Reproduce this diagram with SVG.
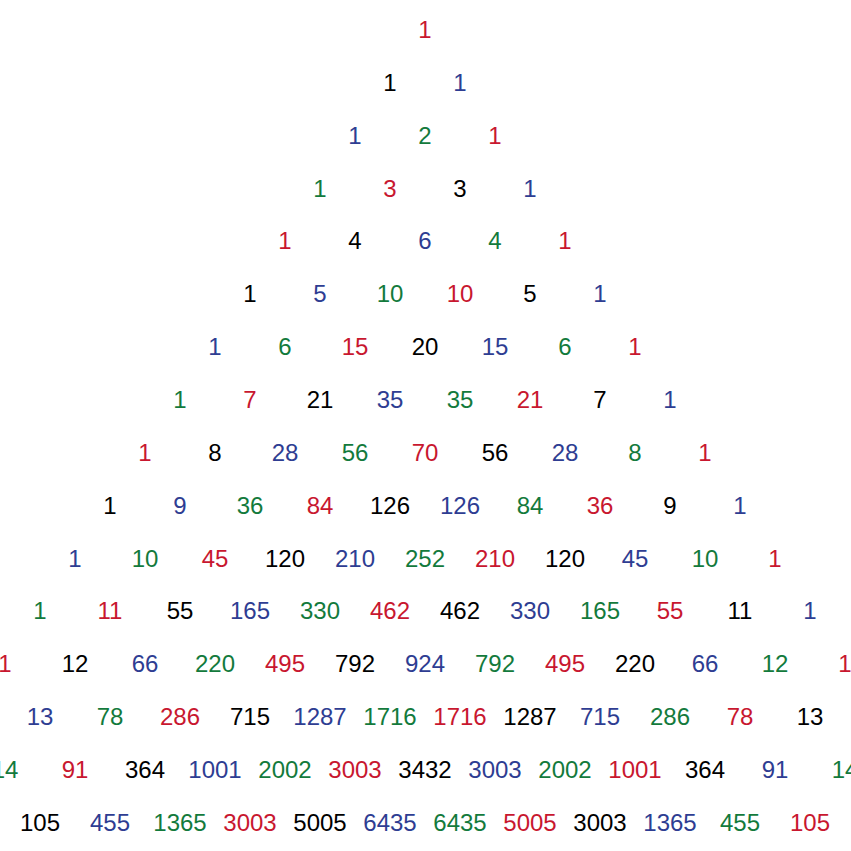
<svg xmlns="http://www.w3.org/2000/svg" width="851" height="851" viewBox="0 0 851 851">
<style>
text{font-family:"Liberation Sans",Arial,sans-serif;font-size:24px;text-anchor:middle}
.c0{fill:#c8172f}.c1{fill:#000}.c2{fill:#2e3d92}.c3{fill:#137a3c}
</style>
<rect width="851" height="851" fill="#fff"/>
<g id="row0"><text class="c0" x="425" y="38">1</text></g>
<g id="row1"><text class="c1" x="390" y="90.9">1</text><text class="c2" x="460" y="90.9">1</text></g>
<g id="row2"><text class="c2" x="355" y="143.7">1</text><text class="c3" x="425" y="143.7">2</text><text class="c0" x="495" y="143.7">1</text></g>
<g id="row3"><text class="c3" x="320" y="196.6">1</text><text class="c0" x="390" y="196.6">3</text><text class="c1" x="460" y="196.6">3</text><text class="c2" x="530" y="196.6">1</text></g>
<g id="row4"><text class="c0" x="285" y="249.4">1</text><text class="c1" x="355" y="249.4">4</text><text class="c2" x="425" y="249.4">6</text><text class="c3" x="495" y="249.4">4</text><text class="c0" x="565" y="249.4">1</text></g>
<g id="row5"><text class="c1" x="250" y="302.3">1</text><text class="c2" x="320" y="302.3">5</text><text class="c3" x="390" y="302.3">10</text><text class="c0" x="460" y="302.3">10</text><text class="c1" x="530" y="302.3">5</text><text class="c2" x="600" y="302.3">1</text></g>
<g id="row6"><text class="c2" x="215" y="355.1">1</text><text class="c3" x="285" y="355.1">6</text><text class="c0" x="355" y="355.1">15</text><text class="c1" x="425" y="355.1">20</text><text class="c2" x="495" y="355.1">15</text><text class="c3" x="565" y="355.1">6</text><text class="c0" x="635" y="355.1">1</text></g>
<g id="row7"><text class="c3" x="180" y="408">1</text><text class="c0" x="250" y="408">7</text><text class="c1" x="320" y="408">21</text><text class="c2" x="390" y="408">35</text><text class="c3" x="460" y="408">35</text><text class="c0" x="530" y="408">21</text><text class="c1" x="600" y="408">7</text><text class="c2" x="670" y="408">1</text></g>
<g id="row8"><text class="c0" x="145" y="460.9">1</text><text class="c1" x="215" y="460.9">8</text><text class="c2" x="285" y="460.9">28</text><text class="c3" x="355" y="460.9">56</text><text class="c0" x="425" y="460.9">70</text><text class="c1" x="495" y="460.9">56</text><text class="c2" x="565" y="460.9">28</text><text class="c3" x="635" y="460.9">8</text><text class="c0" x="705" y="460.9">1</text></g>
<g id="row9"><text class="c1" x="110" y="513.7">1</text><text class="c2" x="180" y="513.7">9</text><text class="c3" x="250" y="513.7">36</text><text class="c0" x="320" y="513.7">84</text><text class="c1" x="390" y="513.7">126</text><text class="c2" x="460" y="513.7">126</text><text class="c3" x="530" y="513.7">84</text><text class="c0" x="600" y="513.7">36</text><text class="c1" x="670" y="513.7">9</text><text class="c2" x="740" y="513.7">1</text></g>
<g id="row10"><text class="c2" x="75" y="566.6">1</text><text class="c3" x="145" y="566.6">10</text><text class="c0" x="215" y="566.6">45</text><text class="c1" x="285" y="566.6">120</text><text class="c2" x="355" y="566.6">210</text><text class="c3" x="425" y="566.6">252</text><text class="c0" x="495" y="566.6">210</text><text class="c1" x="565" y="566.6">120</text><text class="c2" x="635" y="566.6">45</text><text class="c3" x="705" y="566.6">10</text><text class="c0" x="775" y="566.6">1</text></g>
<g id="row11"><text class="c3" x="40" y="619.4">1</text><text class="c0" x="110" y="619.4">11</text><text class="c1" x="180" y="619.4">55</text><text class="c2" x="250" y="619.4">165</text><text class="c3" x="320" y="619.4">330</text><text class="c0" x="390" y="619.4">462</text><text class="c1" x="460" y="619.4">462</text><text class="c2" x="530" y="619.4">330</text><text class="c3" x="600" y="619.4">165</text><text class="c0" x="670" y="619.4">55</text><text class="c1" x="740" y="619.4">11</text><text class="c2" x="810" y="619.4">1</text></g>
<g id="row12"><text class="c0" x="5" y="672.3">1</text><text class="c1" x="75" y="672.3">12</text><text class="c2" x="145" y="672.3">66</text><text class="c3" x="215" y="672.3">220</text><text class="c0" x="285" y="672.3">495</text><text class="c1" x="355" y="672.3">792</text><text class="c2" x="425" y="672.3">924</text><text class="c3" x="495" y="672.3">792</text><text class="c0" x="565" y="672.3">495</text><text class="c1" x="635" y="672.3">220</text><text class="c2" x="705" y="672.3">66</text><text class="c3" x="775" y="672.3">12</text><text class="c0" x="845" y="672.3">1</text></g>
<g id="row13"><text class="c2" x="40" y="725.1">13</text><text class="c3" x="110" y="725.1">78</text><text class="c0" x="180" y="725.1">286</text><text class="c1" x="250" y="725.1">715</text><text class="c2" x="320" y="725.1">1287</text><text class="c3" x="390" y="725.1">1716</text><text class="c0" x="460" y="725.1">1716</text><text class="c1" x="530" y="725.1">1287</text><text class="c2" x="600" y="725.1">715</text><text class="c3" x="670" y="725.1">286</text><text class="c0" x="740" y="725.1">78</text><text class="c1" x="810" y="725.1">13</text></g>
<g id="row14"><text class="c3" x="5" y="778">14</text><text class="c0" x="75" y="778">91</text><text class="c1" x="145" y="778">364</text><text class="c2" x="215" y="778">1001</text><text class="c3" x="285" y="778">2002</text><text class="c0" x="355" y="778">3003</text><text class="c1" x="425" y="778">3432</text><text class="c2" x="495" y="778">3003</text><text class="c3" x="565" y="778">2002</text><text class="c0" x="635" y="778">1001</text><text class="c1" x="705" y="778">364</text><text class="c2" x="775" y="778">91</text><text class="c3" x="845" y="778">14</text></g>
<g id="row15"><text class="c1" x="40" y="830.9">105</text><text class="c2" x="110" y="830.9">455</text><text class="c3" x="180" y="830.9">1365</text><text class="c0" x="250" y="830.9">3003</text><text class="c1" x="320" y="830.9">5005</text><text class="c2" x="390" y="830.9">6435</text><text class="c3" x="460" y="830.9">6435</text><text class="c0" x="530" y="830.9">5005</text><text class="c1" x="600" y="830.9">3003</text><text class="c2" x="670" y="830.9">1365</text><text class="c3" x="740" y="830.9">455</text><text class="c0" x="810" y="830.9">105</text></g>
</svg>
